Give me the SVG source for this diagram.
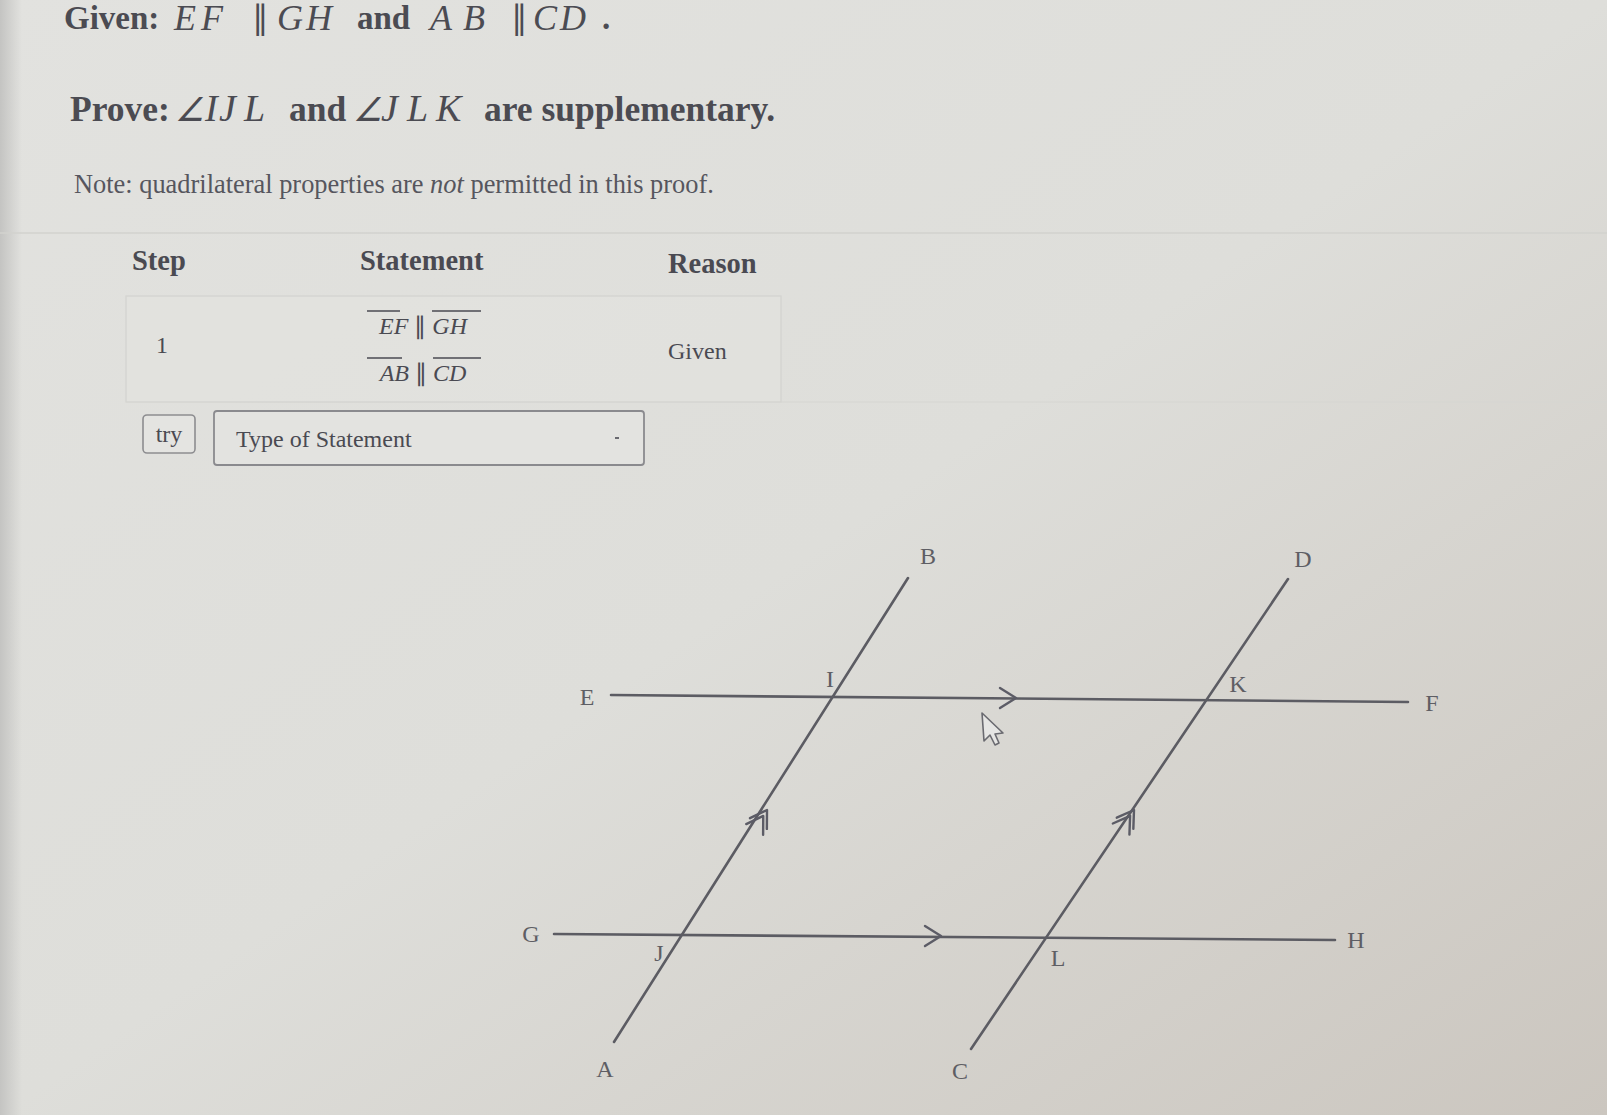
<svg xmlns="http://www.w3.org/2000/svg" width="1607" height="1115" viewBox="0 0 1607 1115">
<defs>
<linearGradient id="bg" x1="0" y1="0" x2="1" y2="1">
<stop offset="0" stop-color="#e2e2df"/>
<stop offset="0.5" stop-color="#dededa"/>
<stop offset="1" stop-color="#cbc6bf"/>
</linearGradient>
<linearGradient id="edge" x1="0" y1="0" x2="1" y2="0">
<stop offset="0" stop-color="#c4c4c2"/>
<stop offset="1" stop-color="#c4c4c2" stop-opacity="0"/>
</linearGradient>
<path id="chev" d="M-16,-10 L0,0 L-16,10" fill="none"/>
<path id="dchev" d="M-16,-10 L0,0 L-16,10 M-23,-10 L-7,0 L-23,10" fill="none"/>
<style>
.hdr{font-family:"Liberation Serif",serif;fill:#4b4b52;}
.b{font-weight:bold;}
.m{font-family:"Liberation Serif",serif;fill:#4b4b52;font-style:italic;}
.note{font-family:"Liberation Serif",serif;font-size:26.4px;fill:#56565e;}
.th{font-family:"Liberation Serif",serif;font-size:28.5px;font-weight:bold;fill:#4a4a52;}
.td{font-family:"Liberation Serif",serif;font-size:24px;fill:#4a4a52;}
.ov{stroke:#4a4a52;stroke-width:1.6;}
.ln{stroke:#5c5c63;stroke-width:2.6;fill:none;stroke-linecap:round;}
.ar{stroke:#5c5c66;stroke-width:2.4;fill:none;stroke-linecap:round;stroke-linejoin:round;}
.lbl{font-family:"Liberation Serif",serif;font-size:24px;fill:#5e5e64;text-anchor:middle;}
</style>
</defs>
<rect width="1607" height="1115" fill="url(#bg)"/>
<rect width="22" height="1115" fill="url(#edge)"/>

<g id="header">
<text class="hdr b" x="64" y="29" font-size="33">Given:</text>
<text class="m" x="174 201" y="30" font-size="36">EF</text>
<text class="hdr" x="252" y="29" font-size="33">∥</text>
<text class="m" x="277 306" y="30" font-size="36">GH</text>
<text class="hdr b" x="357" y="29" font-size="33">and</text>
<text class="m" x="430 463" y="30" font-size="36">AB</text>
<text class="hdr" x="511" y="29" font-size="33">∥</text>
<text class="m" x="533 560" y="30" font-size="36">CD</text>
<text class="hdr b" x="602" y="29" font-size="33">.</text>

<text class="hdr b" x="70" y="121" font-size="35.5">Prove:</text>
<text class="m" x="175" y="121" font-size="33">∠</text>
<text class="m" x="205 219 244" y="121" font-size="38">IJL</text>
<text class="hdr b" x="289" y="121" font-size="35.5">and</text>
<text class="m" x="353" y="121" font-size="33">∠</text>
<text class="m" x="381 407 436" y="121" font-size="38">JLK</text>
<text class="hdr b" x="484" y="121" font-size="35.5">are supplementary.</text>
<text class="note" x="74" y="193">Note: quadrilateral properties are <tspan font-style="italic">not</tspan> permitted in this proof.</text>
</g>

<g id="table">
<line x1="0" y1="233" x2="1607" y2="233" stroke="#d2d2ce" stroke-width="1.5"/>
<rect x="126" y="296" width="655" height="106" fill="#e3e3e0" fill-opacity="0.5" stroke="#d3d3cf" stroke-width="1.2"/>
<line x1="781" y1="402" x2="1607" y2="402" stroke="#d6d6d2" stroke-width="1.2"/>
<text class="th" x="132" y="270">Step</text>
<text class="th" x="360" y="270">Statement</text>
<text class="th" x="668" y="273">Reason</text>
<text class="td" x="162" y="353" font-size="17" text-anchor="middle">1</text>
<text class="td" x="423" y="334" text-anchor="middle"><tspan font-style="italic">EF</tspan> ∥ <tspan font-style="italic">GH</tspan></text>
<line class="ov" x1="367" y1="311" x2="400" y2="311"/>
<line class="ov" x1="432" y1="311" x2="481" y2="311"/>
<text class="td" x="423" y="381" text-anchor="middle"><tspan font-style="italic">AB</tspan> ∥ <tspan font-style="italic">CD</tspan></text>
<line class="ov" x1="367" y1="358" x2="402" y2="358"/>
<line class="ov" x1="433" y1="358" x2="481" y2="358"/>
<text class="td" x="668" y="359" font-size="25">Given</text>
</g>

<g id="try-button">
<rect x="143" y="415" width="52" height="38" rx="4" fill="#e4e4e1" stroke="#8d8d90" stroke-width="1.6"/>
<text class="td" x="169" y="442" font-size="18" text-anchor="middle" fill="#55555c">try</text>
</g>

<g id="dropdown">
<rect x="214" y="411" width="430" height="54" rx="3" fill="#e3e3e0" stroke="#8a8a8e" stroke-width="1.8"/>
<text class="td" x="236" y="447" font-size="28" fill="#5a5a62">Type of Statement</text>
<line x1="615" y1="438" x2="619" y2="438" stroke="#6a6a70" stroke-width="2"/>
</g>

<g id="connectors">
<line id="line-EF" class="ln" x1="611" y1="695" x2="1408" y2="702"/>
<line id="line-GH" class="ln" x1="554" y1="934" x2="1335" y2="940"/>
<line id="line-AB" class="ln" x1="614" y1="1042" x2="908" y2="578"/>
<line id="line-CD" class="ln" x1="971" y1="1049" x2="1288" y2="579"/>
<use href="#chev" class="ar" transform="translate(1016,698)"/>
<use href="#chev" class="ar" transform="translate(941,936)"/>
<use href="#dchev" class="ar" transform="translate(767,810) rotate(-57.6)"/>
<use href="#dchev" class="ar" transform="translate(1134,810) rotate(-56)"/>
</g>

<g id="labels">
<g id="node-B"><text class="lbl" x="928" y="564">B</text></g>
<g id="node-D"><text class="lbl" x="1303" y="567">D</text></g>
<g id="node-E"><text class="lbl" x="587" y="705">E</text></g>
<g id="node-I"><text class="lbl" x="830" y="687">I</text></g>
<g id="node-K"><text class="lbl" x="1238" y="692">K</text></g>
<g id="node-F"><text class="lbl" x="1432" y="711">F</text></g>
<g id="node-G"><text class="lbl" x="531" y="942">G</text></g>
<g id="node-J"><text class="lbl" x="659" y="961">J</text></g>
<g id="node-L"><text class="lbl" x="1058" y="966">L</text></g>
<g id="node-H"><text class="lbl" x="1356" y="948">H</text></g>
<g id="node-A"><text class="lbl" x="605" y="1077">A</text></g>
<g id="node-C"><text class="lbl" x="960" y="1079">C</text></g>
</g>

<g id="cursor">
<path d="M982,713 L984,741 L990,735 L995,745 L999,743 L995,734 L1003,733 Z" fill="#e6e6e4" stroke="#6a6a70" stroke-width="1.6" stroke-linejoin="round"/>
</g>
</svg>
